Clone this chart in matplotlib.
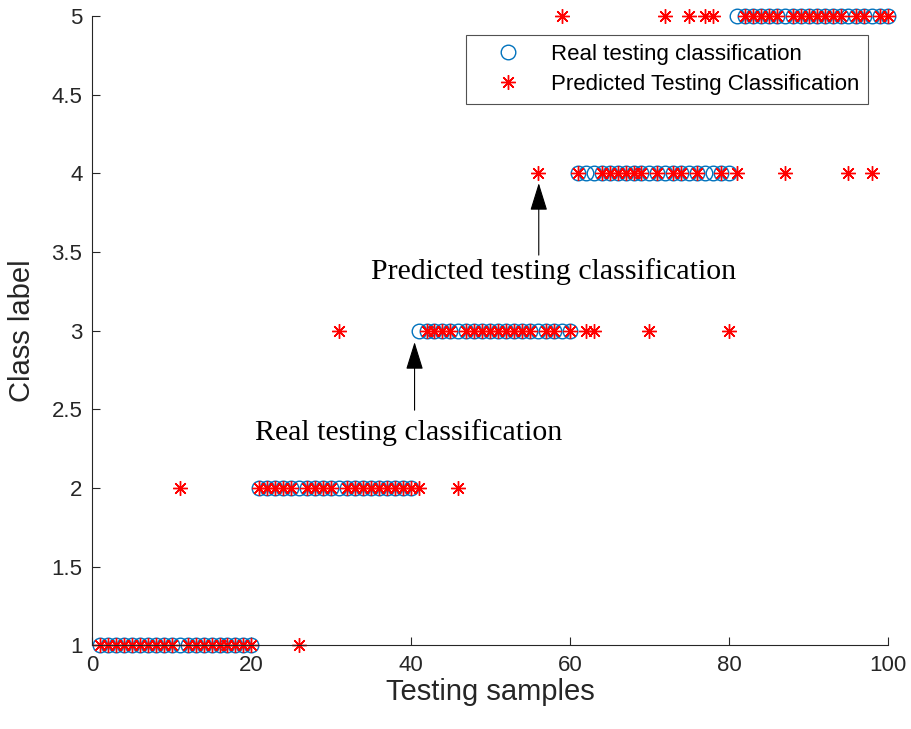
import matplotlib
matplotlib.use("Agg")
import matplotlib.pyplot as plt
import numpy as np

plt.rcParams['font.family'] = ['Liberation Sans', 'DejaVu Sans']

samples = list(range(1, 101))
real_class = [1]*20 + [2]*20 + [3]*20 + [4]*20 + [5]*20
predicted_class = (
    [1]*10 + [2] + [1]*9 +                      # 1-20
    [2]*5 + [1] + [2]*4 + [3] + [2]*9 +          # 21-40
    [2] + [3]*4 + [2] + [3]*9 + [4] + [3]*2 + [5] + [3] +   # 41-60
    [4] + [3]*2 + [4]*6 + [3] + [4] + [5] + [4]*2 + [5] + [4] + [5]*2 + [4] + [3] +  # 61-80
    [4] + [5]*5 + [4] + [5]*7 + [4] + [5]*2 + [4] + [5]*2   # 81-100
)
x_ticks = [0, 20, 40, 60, 80, 100]
y_ticks = [1, 1.5, 2, 2.5, 3, 3.5, 4, 4.5, 5]
y_ticklabels = ['1', '1.5', '2', '2.5', '3', '3.5', '4', '4.5', '5']

fig = plt.figure(figsize=(9.12, 7.29), dpi=100)
ax = fig.add_axes([0.101, 0.115, 0.873, 0.863])

blue = (0, 0.447, 0.741)
ax.plot(samples, real_class, linestyle='none', marker='o', markersize=10.5,
        markerfacecolor='none', markeredgecolor=blue, markeredgewidth=1.0,
        clip_on=False, label='Real testing classification')
ax.plot(samples, predicted_class, linestyle='none', marker=(8, 2, 0), markersize=10.5,
        color='red', markeredgewidth=1.0, clip_on=False,
        label='Predicted Testing Classification')

ax.set_xlim(0, 100)
ax.set_ylim(1, 5)
ax.set_xticks(x_ticks)
ax.set_yticks(y_ticks)
ax.set_yticklabels(y_ticklabels)
ax.tick_params(direction='in', length=6, labelsize=16, colors='#262626', width=0.8)
ax.tick_params(axis='x', pad=7)
ax.tick_params(axis='y', pad=7)
for s in ['top', 'right']:
    ax.spines[s].set_visible(False)
for s in ['left', 'bottom']:
    ax.spines[s].set_color('#262626')
    ax.spines[s].set_linewidth(0.8)

ax.set_xlabel('Testing samples', fontsize=21, color='#262626', va='center')
ax.set_ylabel('Class label', fontsize=21, color='#262626', va='center', ha='center')
ax.xaxis.set_label_coords(0.5, -0.075)
ax.yaxis.set_label_coords(-0.088, 0.5)

serif = ['Liberation Serif', 'DejaVu Serif']
arrow_kw = dict(arrowstyle='-|>,head_length=0.87,head_width=0.27', mutation_scale=20,
                color='black', lw=0.8, shrinkA=0, shrinkB=0)
ax.annotate('', xy=(56.1, 3.938), xytext=(56.1, 3.48), arrowprops=arrow_kw)
ax.text(58.0, 3.375, 'Predicted testing classification', fontsize=21.5, family=serif,
        ha='center', va='center')
ax.annotate('', xy=(40.5, 2.927), xytext=(40.5, 2.494), arrowprops=arrow_kw)
ax.text(39.7, 2.355, 'Real testing classification', fontsize=21.5, family=serif,
        ha='center', va='center')

leg = ax.legend(loc='upper right', bbox_to_anchor=(0.975, 0.970), borderaxespad=0,
                fontsize=16, frameon=True, fancybox=False, edgecolor='#262626',
                borderpad=0.4, handletextpad=0.45, labelspacing=0.4, handlelength=3)
leg.get_frame().set_linewidth(0.8)

fig.savefig('out.png', dpi=100)
